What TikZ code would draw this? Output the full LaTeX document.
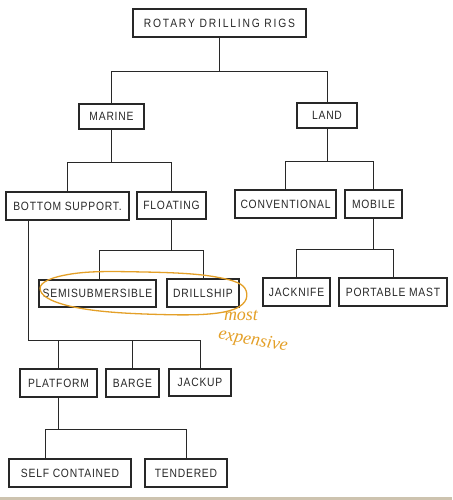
\documentclass[tikz,border=0pt]{standalone}
\usepackage{fontspec}
\setmainfont{Liberation Sans}[FakeStretch=0.86, LetterSpace=6.5]
\newfontfamily\handfont{Liberation Serif}[Scale=1]
\usetikzlibrary{calc}
\definecolor{ink}{RGB}{40,40,40}
\definecolor{hand}{RGB}{228,160,40}
\definecolor{strip}{RGB}{205,195,175}
\tikzset{
  rigbox/.style={draw=ink, line width=1.1pt, text=ink, font=\fontsize{12}{14}\selectfont,
    inner sep=0pt, minimum height=28pt, anchor=center},
  link/.style={draw=ink, line width=1pt},
  handtext/.style={text=hand, font=\handfont\itshape\fontsize{18}{18}\selectfont, inner sep=0pt}
}
\begin{document}
\begin{tikzpicture}[x=1pt,y=-1pt]
\useasboundingbox[fill=white] (0,0) rectangle (452,500);
\fill[strip] (0,497) rectangle (452,500);

\node[rigbox, minimum width=173pt] (rigs) at (219.5,23) {\addfontfeature{LetterSpace=15}ROTARY DRILLING RIGS};
\node[rigbox, minimum width=65pt, minimum height=25pt] (marine) at (111.5,116.5) {MARINE};
\node[rigbox, minimum width=60pt, minimum height=25pt] (land) at (327,115.5) {LAND};
\node[rigbox, minimum width=123pt] (bottom) at (67.5,206) {BOTTOM SUPPORT.};
\node[rigbox, minimum width=69pt, minimum height=27pt] (floating) at (171.5,205.5) {FLOATING};
\node[rigbox, minimum width=101pt] (conv) at (285.5,204) {CONVENTIONAL};
\node[rigbox, minimum width=57pt] (mobile) at (373.5,204) {MOBILE};
\node[rigbox, minimum width=117pt, minimum height=27pt] (semi) at (97.5,293.5) {SEMISUBMERSIBLE};
\node[rigbox, minimum width=72pt] (drill) at (203,293) {DRILLSHIP};
\node[rigbox, minimum width=67pt] (jack) at (296.5,292) {JACKNIFE};
\node[rigbox, minimum width=108pt] (portable) at (393,292) {PORTABLE MAST};
\node[rigbox, minimum width=77pt] (platform) at (58.5,383) {PLATFORM};
\node[rigbox, minimum width=53pt] (barge) at (132.5,383) {BARGE};
\node[rigbox, minimum width=62pt, minimum height=27pt] (jackup) at (200,382.5) {JACKUP};
\node[rigbox, minimum width=122pt] (self) at (70,473) {SELF CONTAINED};
\node[rigbox, minimum width=82pt] (tendered) at (186,473) {TENDERED};

% level 1
\draw[link] (rigs.south) -- (rigs.south |- 0,72);
\draw[link] (marine.north) -- (marine.north |- 0,72) -| (land.north);
% marine children
\draw[link] (marine.south) -- (marine.south |- 0,162);
\draw[link] (bottom.north) -- (bottom.north |- 0,162) -| (floating.north);
% land children
\draw[link] (land.south) -- (land.south |- 0,161);
\draw[link] (conv.north) -- (conv.north |- 0,161) -| (mobile.north);
% floating children
\draw[link] (floating.south) -- (floating.south |- 0,250);
\draw[link] (semi.north -| 99,0) -- (99,250) -| (drill.north);
% mobile children
\draw[link] (mobile.south) -- (mobile.south |- 0,249);
\draw[link] (jack.north) -- (jack.north |- 0,249) -| (portable.north);
% bottom support children
\draw[link] (bottom.south -| 28,0) -- (28,340) -| (jackup.north);
\draw[link] (platform.north) -- (platform.north |- 0,340);
\draw[link] (barge.north) -- (barge.north |- 0,340);
% platform children
\draw[link] (platform.south) -- (platform.south |- 0,429);
\draw[link] (self.north -| 45,0) -- (45,429) -| (tendered.north);

% hand annotation
\draw[hand, line width=1.3pt, rotate around={-1.5:(143,293)}]
  plot[smooth cycle, tension=0.7] coordinates {(40,291) (70,276) (140,272) (215,275) (246,288) (228,309) (150,314) (70,308)};
\node[handtext] (most) at (241,316) {most};
\node[handtext, rotate=-10] (expensive) at (253,341) {expensive};
\end{tikzpicture}
\end{document}
